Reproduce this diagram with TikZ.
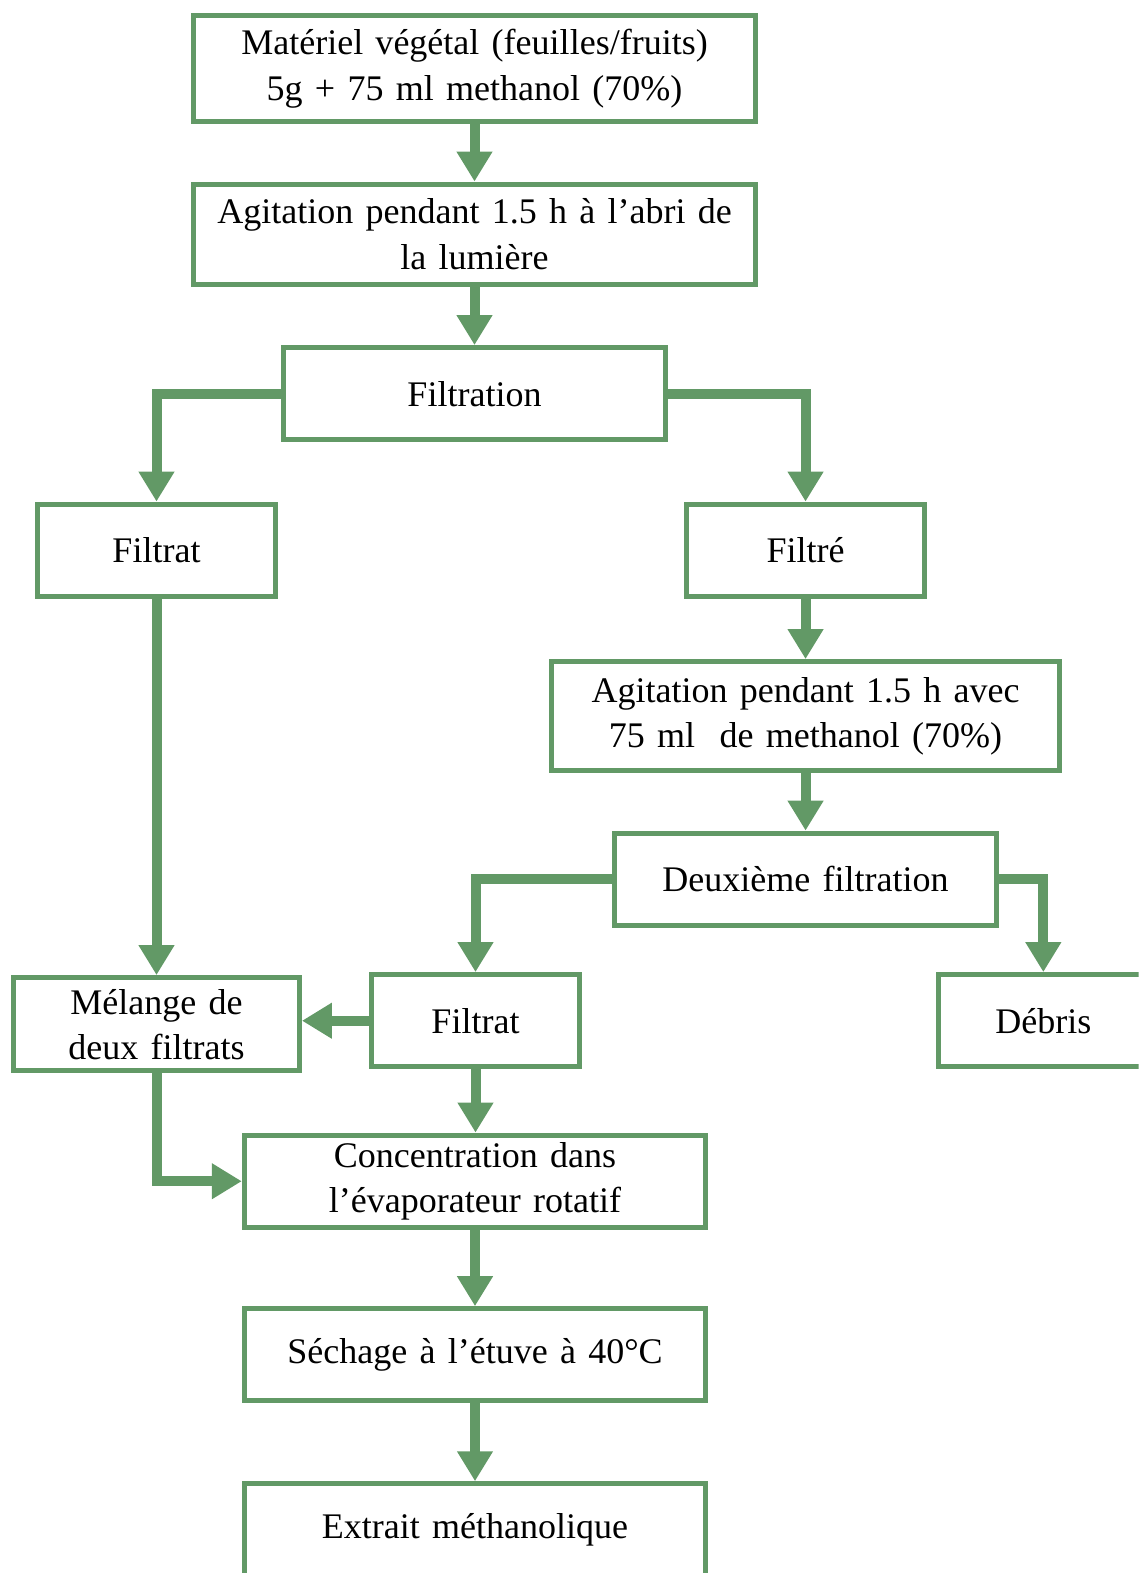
\documentclass[tikz,border=0pt]{standalone}
\usepackage{fontspec}
\setmainfont{Liberation Serif}
\usetikzlibrary{arrows.meta, positioning}

\definecolor{flowgreen}{RGB}{98,153,102}
\newcommand{\boxfont}{\fontsize{20.5}{25.7}\selectfont\spaceskip=0.34em\relax}

\tikzset{
  box/.style={draw=flowgreen, line width=0.1cm, fill=white, align=center,
    minimum height=1.846cm, inner sep=2pt, font=\boxfont},
  arr/.style={color=flowgreen, line width=0.2cm,
    -{Triangle[width=0.68cm, length=0.6cm]}}
}

\begin{document}
\begin{tikzpicture}

      \useasboundingbox (0,0) rectangle (22.779,-31.47);
      \clip (0,0) rectangle (22.779,-31.47);

      % Nodes for the main steps
      \node[box, minimum width=11.26cm, minimum height=2.127cm] (materiel) at (9.493,-1.375)
        {Matériel végétal (feuilles/fruits)\\5g + 75 ml methanol (70\%)};
      \node[box, minimum width=11.26cm, minimum height=2.007cm] (agitation) at (9.493,-4.686)
        {Agitation pendant 1.5 h à l’abri de\\la lumière};
      \node[box, minimum width=7.647cm] (filtration) at (9.493,-7.877) {Filtration};
      \node[box, minimum width=4.757cm] (filtrat) at (3.131,-11.008) {Filtrat};
      \node[box, minimum width=4.757cm] (filtre) at (16.116,-11.008) {Filtré};
      \node[box, minimum width=10.175cm, minimum height=2.188cm] (agitationb) at (16.116,-14.33)
        {Agitation pendant 1.5 h avec\\75 ml \ de methanol (70\%)};
      \node[box, minimum width=7.647cm] (deuxieme) at (16.116,-17.591) {Deuxième filtration};

      % Nodes for the second filtration
      \node[box, minimum width=5.72cm, minimum height=1.866cm] (melange) at (3.131,-20.491)
        {Mélange de\\deux filtrats};
      \node[box, minimum width=4.154cm] (filtratb) at (9.513,-20.421) {Filtrat};
      \node[box, minimum width=4.195cm] (debris) at (20.873,-20.421) {Débris};
      \node[box, minimum width=9.232cm] (concentration) at (9.503,-23.632)
        {Concentration dans\\l’évaporateur rotatif};
      \node[box, minimum width=9.232cm] (sechage) at (9.503,-27.105) {Séchage à l’étuve à 40°C};
      \node[box, minimum width=9.232cm] (extrait) at (9.503,-30.607) {Extrait méthanolique};

      % Edges for the main steps
      \path[arr]
        (materiel) edge (agitation)
        (agitation) edge (filtration)
        (filtre) edge (agitationb)
        (agitationb) edge (deuxieme)
        (filtrat) edge (melange)
        (concentration) edge (sechage)
        (sechage) edge (extrait);

      % Elbow edges
      \draw[arr] (filtration.west) -| (filtrat.north);
      \draw[arr] (filtration.east) -| (filtre.north);
      \draw[arr] (deuxieme.west) -| (filtratb.north);
      \draw[arr] (deuxieme.east) -| (debris.north);
      \draw[arr] (filtratb.west) -- (filtratb.west -| melange.east);
      \draw[arr] (filtratb.south) -- (filtratb.south |- concentration.north);
      \draw[arr] (melange.south) |- (concentration.west);

\end{tikzpicture}
\end{document}
